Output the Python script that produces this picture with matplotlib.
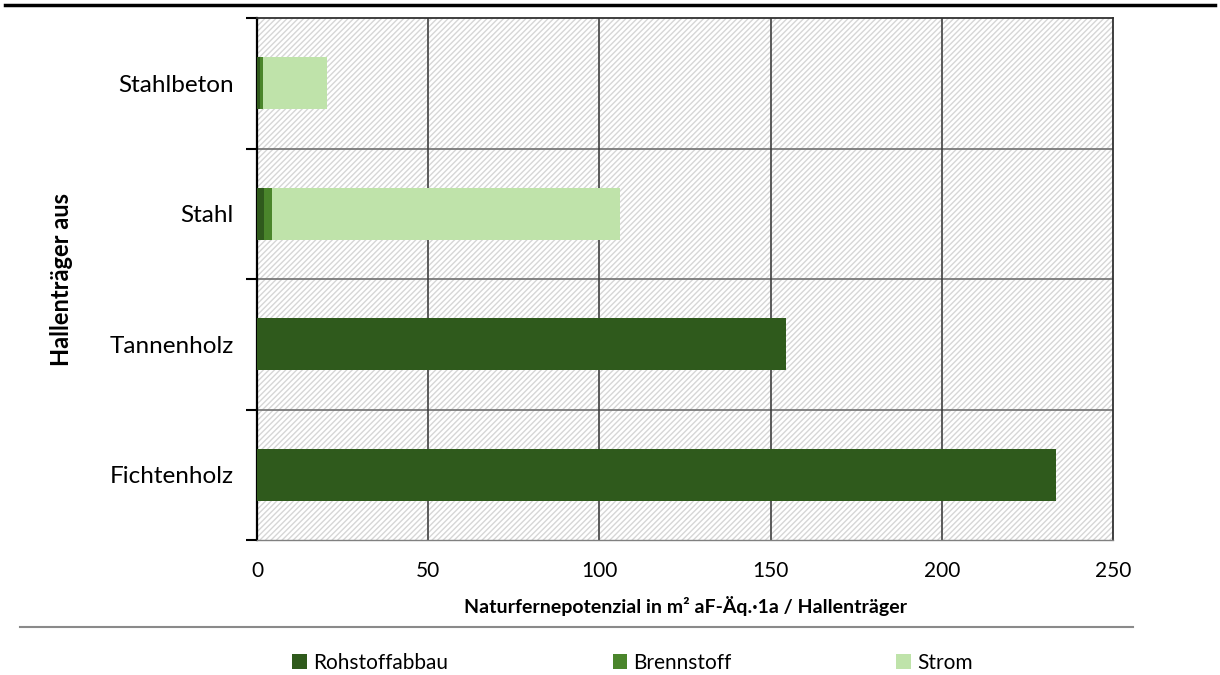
import numpy as np
import matplotlib.pyplot as plt
from matplotlib.patches import Rectangle
from matplotlib.lines import Line2D

# data (bottom to top)
categories = ['Fichtenholz', 'Tannenholz', 'Stahl', 'Stahlbeton']
rohstoff = [233.4, 154.5, 2.0, 1.0]
brennstoff = [0.0, 0.0, 2.3, 0.7]
strom = [0.0, 0.0, 101.7, 18.6]
series_names = ['Rohstoffabbau', 'Brennstoff', 'Strom']
colors = ['#2f5a1c', '#4a852b', '#bfe3aa']
xticks = [0, 50, 100, 150, 200, 250]

plt.rcParams['font.family'] = ['Lato', 'DejaVu Sans']
plt.rcParams['hatch.linewidth'] = 1.0

fig = plt.figure(figsize=(12.2, 6.75), dpi=100)
ax = fig.add_axes([0.2107, 0.2, 0.7016, 0.7733])

# a. hatched background
ax.add_patch(Rectangle((0, 0), 1, 1, transform=ax.transAxes, facecolor='white',
                       edgecolor='#d6d6d6', hatch='//////', lw=0, zorder=0))

# b. stacked bars
y = np.arange(len(categories))
left = np.zeros(len(categories))
for vals, name, c in zip([rohstoff, brennstoff, strom], series_names, colors):
    ax.barh(y, vals, left=left, height=0.4, color=c, label=name, zorder=3)
    left += np.array(vals)

ax.set_xlim(0, 250)
ax.set_ylim(-0.5, len(categories) - 0.5)
ax.set_xticks(xticks)
ax.set_xticklabels([str(t) for t in xticks], fontsize=15)
ax.set_yticks(y)
ax.set_yticklabels(categories, fontsize=17.5)
ax.tick_params(axis='y', length=0, pad=17)
ax.tick_params(axis='x', length=0, pad=15)

# category boundary ticks and gridlines
bounds = np.arange(-0.5, len(categories), 1.0)
ax.set_yticks(bounds, minor=True)
ax.tick_params(axis='y', which='minor', length=8, width=1.5, color='black')
for b in bounds[1:-1]:
    ax.axhline(b, color='#707070', lw=1.2, zorder=1)
for t in xticks[1:-1]:
    ax.axvline(t, color='#404040', lw=1.2, zorder=1)

for s in ['top', 'right']:
    ax.spines[s].set_color('#303030')
    ax.spines[s].set_linewidth(1.3)
ax.spines['left'].set_color('black')
ax.spines['left'].set_linewidth(1.6)
ax.spines['bottom'].set_color('#808080')
ax.spines['bottom'].set_linewidth(1.0)

ax.set_xlabel('Naturfernepotenzial in m² aF-Äq.·1a / Hallenträger',
              fontsize=14, fontweight='bold', labelpad=11)
ax.set_ylabel('Hallenträger aus', fontsize=17, fontweight='bold', labelpad=26)

# decoration lines
fig.add_artist(Line2D([0.004, 0.996], [1 - 5 / 675] * 2, color='black', lw=2.5))
fig.add_artist(Line2D([20 / 1220, 1133 / 1220], [1 - 627 / 675] * 2, color='#8a8a8a', lw=1.5))

handles, labels = ax.get_legend_handles_labels()
fig.legend(handles, labels, loc='center', bbox_to_anchor=(0.5185, 1 - 663 / 675), ncol=3,
           frameon=False, fontsize=15, handlelength=0.7, handleheight=0.7,
           handletextpad=0.3, columnspacing=7.9)

fig.savefig('out.png', dpi=100)
